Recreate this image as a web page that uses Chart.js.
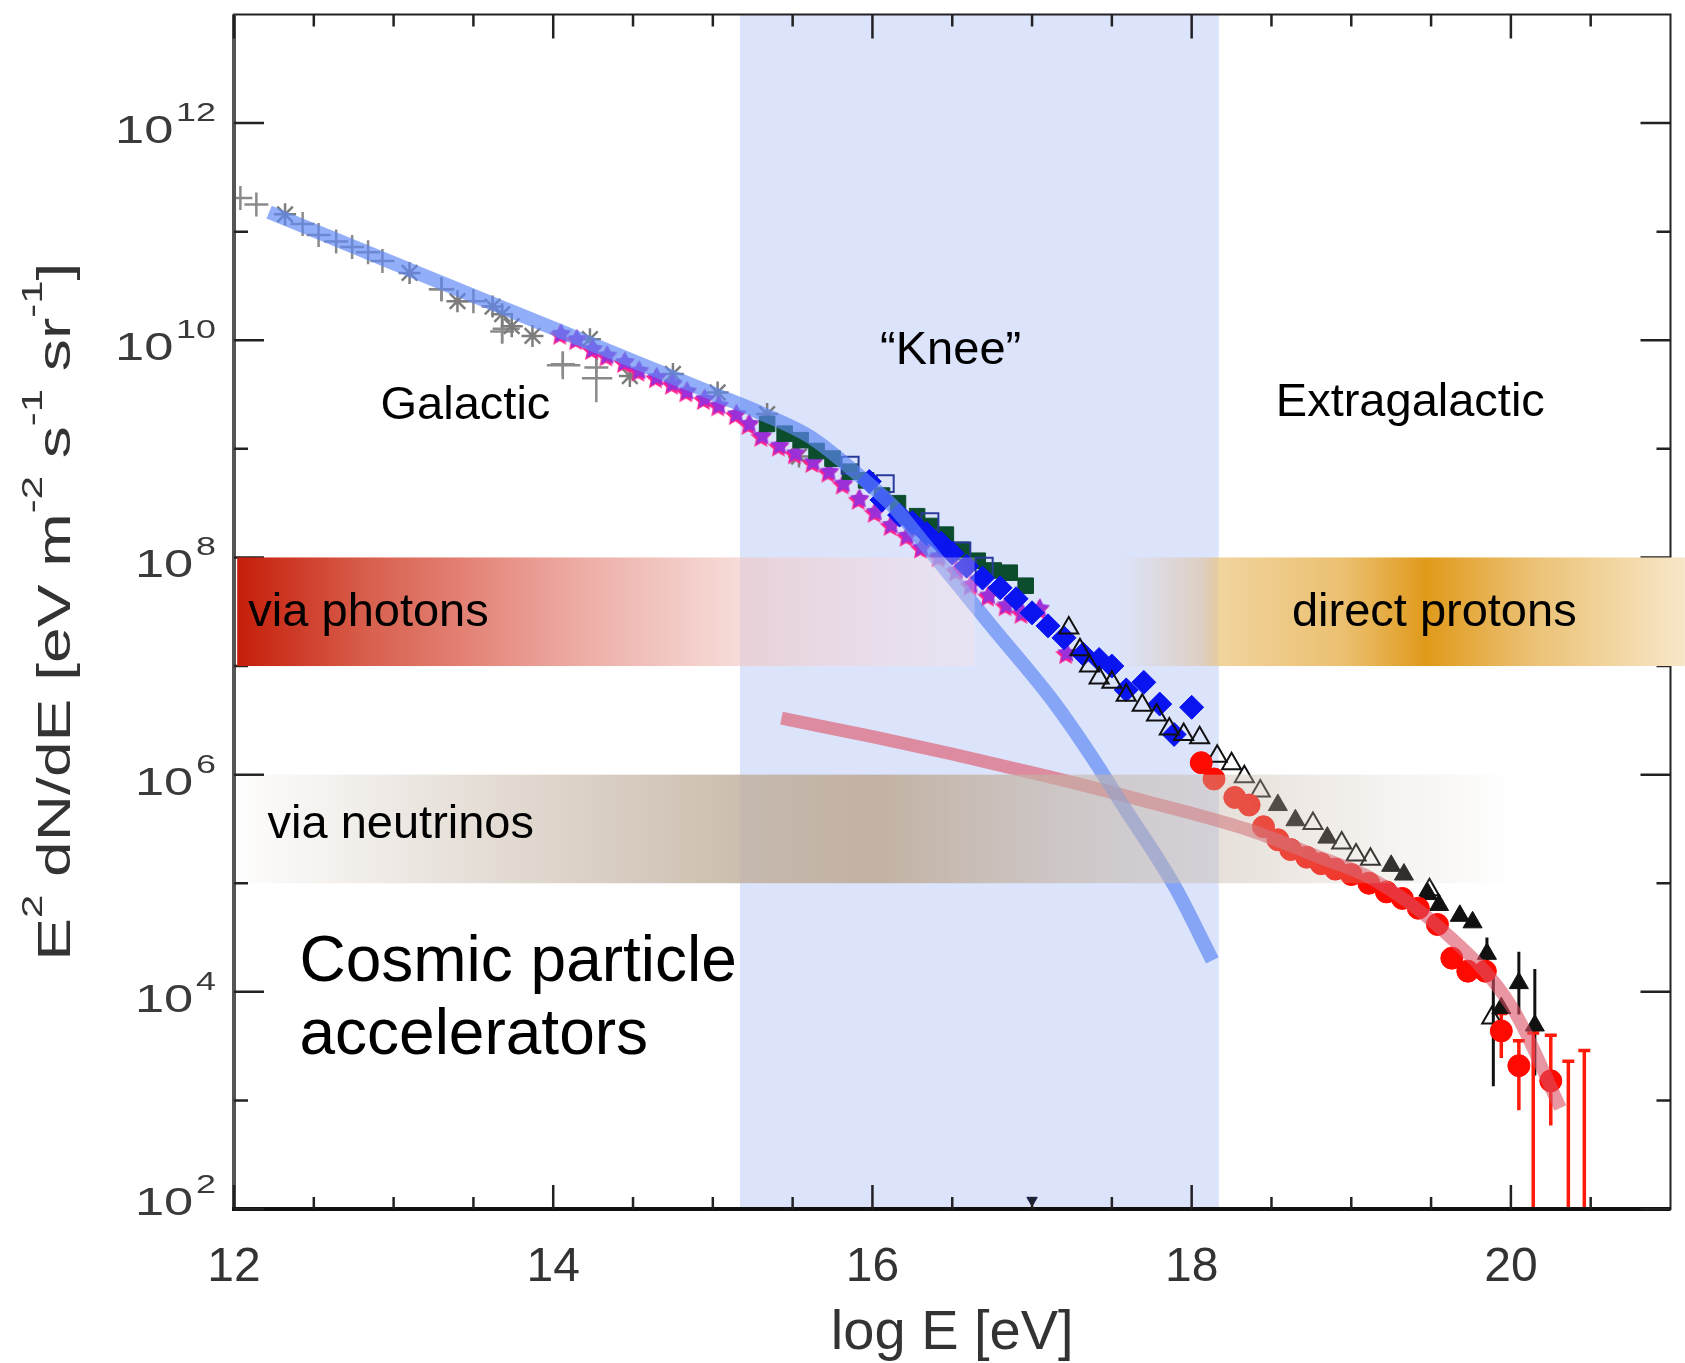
<!DOCTYPE html>
<html>
<head>
<meta charset="utf-8">
<title>Cosmic particle accelerators</title>
<script src="https://cdn.jsdelivr.net/npm/chart.js@4.4.1/dist/chart.umd.min.js"></script>
<style>
  html, body { margin: 0; padding: 0; background: #fff; }
  #wrap { width: 1685px; height: 1363px; }
</style>
</head>
<body>
<div id="wrap"><canvas id="spectrum" width="1685" height="1363"></canvas></div>
<script>
// all energies are log10(E/eV), all fluxes are log10(E^2 dN/dE)

// grey crosses (direct measurements, low energy)
const greyCrossE = [12.04, 12.14, 12.43, 12.53, 12.64, 12.74, 12.84, 12.93, 13.30, 13.50, 13.68, 14.06, 14.27];
const greyCrossF = [11.31, 11.25, 11.07, 10.97, 10.91, 10.86, 10.81, 10.73, 10.47, 10.36, 10.08, 9.78, 9.75];
// grey asterisks
const greyStarE = [12.32, 13.10, 13.40, 13.62, 13.68, 13.74, 13.87, 14.23, 14.48, 14.75, 15.03, 15.34, 15.54];
const greyStarF = [11.16, 10.62, 10.36, 10.31, 10.24, 10.13, 10.04, 10.01, 9.67, 9.69, 9.52, 9.32, 8.93];
// magenta stars
const magStarE = [14.05, 14.15, 14.25, 14.34, 14.45, 14.54, 14.65, 14.75, 14.84, 14.95, 15.04, 15.15, 15.23, 15.31, 15.42,
                  15.52, 15.63, 15.73, 15.82, 15.92, 16.02, 16.12, 16.22, 16.31, 16.42, 16.53, 16.62, 16.73, 16.84, 16.94, 17.05, 17.22];
const magStarF = [10.06, 10.01, 9.92, 9.86, 9.80, 9.72, 9.66, 9.60, 9.53, 9.46, 9.40, 9.32, 9.23, 9.12, 9.03,
                  8.96, 8.88, 8.79, 8.68, 8.54, 8.42, 8.30, 8.20, 8.09, 8.01, 7.88, 7.75, 7.65, 7.56, 7.49, 7.53, 7.12];
// dark green squares
const greenSqE = [15.34, 15.45, 15.55, 15.65, 15.75, 15.86, 15.96, 16.06, 16.16, 16.28, 16.36, 16.46, 16.56, 16.66, 16.76, 16.86, 16.96];
const greenSqF = [9.23, 9.14, 9.08, 8.98, 8.91, 8.79, 8.71, 8.57, 8.50, 8.38, 8.29, 8.21, 8.07, 7.97, 7.88, 7.86, 7.74];
// open squares
const openSqE = [15.86, 16.08, 16.36, 16.56, 16.70];
const openSqF = [8.85, 8.68, 8.33, 8.06, 7.92];
// blue diamonds
const blueDiaE = [15.98, 16.06, 16.17, 16.25, 16.34, 16.43, 16.50, 16.59, 16.69, 16.80, 16.90, 17.00, 17.10, 17.20, 17.32,
                  17.42, 17.50, 17.59, 17.70, 17.80, 17.89, 18.00];
const blueDiaF = [8.70, 8.53, 8.39, 8.32, 8.22, 8.13, 8.04, 7.92, 7.81, 7.72, 7.62, 7.49, 7.37, 7.26, 7.11,
                  7.06, 7.00, 6.78, 6.85, 6.65, 6.37, 6.62];
// open triangles
const openTriE = [17.23, 17.30, 17.36, 17.42, 17.50, 17.59, 17.69, 17.78, 17.86, 17.95, 18.05, 18.16, 18.25, 18.33, 18.43,
                  18.76, 18.94, 19.03, 19.12, 19.49, 19.88];
const openTriF = [7.35, 7.15, 7.00, 6.89, 6.85, 6.73, 6.64, 6.55, 6.42, 6.37, 6.34, 6.17, 6.10, 5.98, 5.85,
                  5.55, 5.37, 5.26, 5.22, 4.94, 3.76];
// filled triangles
const blackTriE = [18.54, 18.65, 18.85, 19.25, 19.33, 19.48, 19.55, 19.68, 19.76, 19.85, 19.94, 20.05, 20.15];
const blackTriF = [5.72, 5.58, 5.42, 5.16, 5.08, 4.90, 4.80, 4.70, 4.64, 4.35, 3.85, 4.08, 3.69];
// red circles
const redCircE = [18.06, 18.14, 18.27, 18.36, 18.45, 18.54, 18.62, 18.72, 18.81, 18.90, 19.00, 19.11, 19.22, 19.32, 19.42,
                  19.54, 19.63, 19.73, 19.84, 19.94, 20.05, 20.25];
const redCircF = [6.11, 5.96, 5.79, 5.72, 5.52, 5.40, 5.31, 5.24, 5.18, 5.13, 5.08, 5.00, 4.92, 4.86, 4.77,
                  4.62, 4.31, 4.19, 4.19, 3.64, 3.32, 3.18];

// error bars: energy, upper and lower flux
const greyErrE = [13.30, 13.68, 14.06, 14.27];
const greyErrHi = [10.58, 10.24, 9.90, 9.87];
const greyErrLo = [10.36, 9.97, 9.64, 9.43];
const greyErrELo = [13.22, 13.62, 13.96, 14.18];
const greyErrEHi = [13.38, 13.79, 14.17, 14.37];
const blackErrE = [19.85, 19.89, 20.05, 20.15];
const blackErrHi = [4.50, 4.18, 4.37, 4.21];
const blackErrLo = [4.28, 3.13, 3.79, 3.23];
const redErrE = [19.94, 20.05, 20.14, 20.25, 20.36, 20.46];
const redErrHi = [3.80, 3.55, 3.62, 3.60, 3.36, 3.46];
const redErrLo = [3.39, 2.91, 2.00, 2.77, 2.00, 2.00];

// model curves
const galacticE = [12.22, 13.00, 14.00, 15.00, 15.30, 15.61, 15.92, 16.13, 16.34, 16.54, 16.75, 17.13, 17.39, 17.55, 17.89, 18.13];
const galacticF = [11.18, 10.71, 10.11, 9.51, 9.33, 9.11, 8.75, 8.47, 8.10, 7.74, 7.36, 6.68, 6.13, 5.76, 4.98, 4.29];
const extraE = [15.43, 16.00, 16.50, 17.11, 17.70, 18.36, 18.80, 19.12, 19.57, 20.01, 20.31];
const extraF = [6.52, 6.35, 6.19, 5.98, 5.76, 5.49, 5.24, 5.05, 4.57, 3.85, 2.93];

// second knee marker on the energy axis
const secondKneeE = [17.0];
const secondKneeF = [2.08];

// shaded regions: energy range and flux decades
const kneeRange = [15.17, 18.17];
const photonRange = [12.02, 16.64];
const protonRange = [17.53, 21.09];
const neutrinoRange = [12.02, 20.02];
const upperDecades = [7, 8];
const lowerDecades = [5, 6];

// axis ticks
const xMajor = [12, 14, 16, 18, 20];
const xMinor = [12.5, 13, 13.5, 14.5, 15, 15.5, 16.5, 17, 17.5, 18.5, 19, 19.5, 20.5];
const yMajor = [2, 4, 6, 8, 10, 12];
const yMinor = [3, 5, 7, 9, 11];

const pts = (es, fs) => es.map((e, i) => ({ x: e, y: Math.pow(10, fs[i]) }));
const sans = px => px + 'px "Liberation Sans", Arial, sans-serif';

function makeStar(size) {
  const c = document.createElement('canvas');
  c.width = c.height = size;
  const g = c.getContext('2d');
  const star = (cx, cy, R, r) => {
    g.beginPath();
    for (let i = 0; i < 10; i++) {
      const a = -Math.PI / 2 + i * Math.PI / 5;
      const rr = i % 2 ? r : R;
      g.lineTo(cx + rr * Math.cos(a), cy + rr * Math.sin(a));
    }
    g.closePath();
  };
  star(size / 2 - 1.5, size / 2 + 2, size / 2 - 2, size / 5);
  g.fillStyle = '#ff1f8e';
  g.fill();
  star(size / 2, size / 2, size / 2 - 2.5, size / 5);
  g.fillStyle = '#9b2fd8';
  g.fill();
  return c;
}
const starImg = makeStar(26);

function drawErrors(ctx, chart, es, his, los, color, width, cap) {
  const sx = chart.scales.x, sy = chart.scales.y;
  ctx.strokeStyle = color;
  ctx.lineWidth = width;
  es.forEach((e, i) => {
    const x = sx.getPixelForValue(e);
    const y0 = sy.getPixelForValue(Math.pow(10, his[i]));
    const y1 = sy.getPixelForValue(Math.pow(10, los[i]));
    ctx.beginPath();
    ctx.moveTo(x, y0);
    ctx.lineTo(x, y1);
    if (cap) {
      ctx.moveTo(x - cap, y0);
      ctx.lineTo(x + cap, y0);
    }
    ctx.stroke();
  });
}

function drawBand(ctx, chart, range, decades, stops) {
  const sx = chart.scales.x, sy = chart.scales.y;
  const x0 = sx.getPixelForValue(range[0]), x1 = sx.getPixelForValue(range[1]);
  const yTop = sy.getPixelForValue(Math.pow(10, decades[1]));
  const yBot = sy.getPixelForValue(Math.pow(10, decades[0]));
  const g = ctx.createLinearGradient(x0, 0, x1, 0);
  stops.forEach(s => g.addColorStop(s[0], s[1]));
  ctx.fillStyle = g;
  ctx.fillRect(x0, yTop, x1 - x0, yBot - yTop);
}

// knee shading and error bars sit behind the markers
const backdrop = {
  id: 'backdrop',
  beforeDatasetsDraw(chart) {
    const { ctx, chartArea: a, scales: { x: sx, y: sy } } = chart;
    ctx.save();
    const k0 = sx.getPixelForValue(kneeRange[0]), k1 = sx.getPixelForValue(kneeRange[1]);
    ctx.fillStyle = '#dce4fc';
    ctx.fillRect(k0, a.top, k1 - k0, a.bottom - a.top);

    ctx.beginPath();
    ctx.rect(a.left, a.top, a.right - a.left, a.bottom - a.top);
    ctx.clip();
    drawErrors(ctx, chart, greyErrE, greyErrHi, greyErrLo, '#8a8a8a', 2.5, 0);
    // horizontal arms of the grey crosses
    ctx.beginPath();
    greyErrE.forEach((e, i) => {
      const y = sy.getPixelForValue(Math.pow(10, (greyErrHi[i] + greyErrLo[i]) / 2));
      ctx.moveTo(sx.getPixelForValue(greyErrELo[i]), y);
      ctx.lineTo(sx.getPixelForValue(greyErrEHi[i]), y);
    });
    ctx.stroke();
    drawErrors(ctx, chart, blackErrE, blackErrHi, blackErrLo, '#111', 3, 0);
    drawErrors(ctx, chart, redErrE, redErrHi, redErrLo, '#ff1a0a', 3.5, 6);
    ctx.restore();
  }
};

// frame, source bands and all the lettering on top
const overlay = {
  id: 'overlay',
  afterDatasetsDraw(chart) {
    const { ctx, chartArea: a, scales: { x: sx, y: sy } } = chart;
    ctx.save();

    // frame
    ctx.strokeStyle = '#222';
    ctx.lineWidth = 2;
    ctx.strokeRect(a.left, a.top, a.right - a.left, a.bottom - a.top);
    ctx.lineWidth = 4;
    ctx.strokeStyle = '#555';
    ctx.beginPath();
    ctx.moveTo(a.left, a.top); ctx.lineTo(a.left, a.bottom);
    ctx.stroke();
    ctx.strokeStyle = '#111';
    ctx.beginPath();
    ctx.moveTo(a.left - 2, a.bottom); ctx.lineTo(a.right, a.bottom);
    ctx.stroke();

    // inward ticks on all four sides
    ctx.strokeStyle = '#222';
    ctx.lineWidth = 2.5;
    ctx.beginPath();
    const xt = (v, len) => {
      const x = sx.getPixelForValue(v);
      ctx.moveTo(x, a.bottom); ctx.lineTo(x, a.bottom - len);
      ctx.moveTo(x, a.top); ctx.lineTo(x, a.top + len);
    };
    const yt = (p, len) => {
      const y = sy.getPixelForValue(Math.pow(10, p));
      ctx.moveTo(a.left, y); ctx.lineTo(a.left + len, y);
      ctx.moveTo(a.right, y); ctx.lineTo(a.right - len, y);
    };
    xMajor.forEach(v => xt(v, 24));
    xMinor.forEach(v => xt(v, 12));
    yMajor.forEach(p => yt(p, 30));
    yMinor.forEach(p => yt(p, 14));
    ctx.stroke();

    // photon band
    drawBand(ctx, chart, photonRange, upperDecades, [
      [0, 'rgba(198,30,10,1)'],
      [0.18, 'rgba(216,96,78,1)'],
      [0.37, 'rgba(232,146,136,1)'],
      [0.56, 'rgba(235,170,162,0.72)'],
      [0.68, 'rgba(240,195,190,0.6)'],
      [1, 'rgba(255,225,225,0.3)']
    ]);
    // proton band
    drawBand(ctx, chart, protonRange, upperDecades, [
      [0, 'rgba(225,175,110,0)'],
      [0.15, 'rgba(225,175,110,0.4)'],
      [0.18, 'rgba(236,195,120,0.72)'],
      [0.40, 'rgba(235,192,112,1)'],
      [0.545, 'rgba(224,154,26,1)'],
      [0.725, 'rgba(235,192,114,1)'],
      [0.89, 'rgba(242,216,166,1)'],
      [1, 'rgba(247,230,200,1)']
    ]);
    // neutrino band
    drawBand(ctx, chart, neutrinoRange, lowerDecades, [
      [0, 'rgba(192,174,156,0.02)'],
      [0.21, 'rgba(192,174,156,0.45)'],
      [0.39, 'rgba(192,174,156,0.8)'],
      [0.5, 'rgba(192,174,156,0.93)'],
      [0.65, 'rgba(196,180,164,0.6)'],
      [0.79, 'rgba(200,185,170,0.4)'],
      [0.94, 'rgba(205,190,176,0.12)'],
      [1, 'rgba(205,190,176,0)']
    ]);
    ctx.restore();
  },
  afterDraw(chart) {
    const { ctx, chartArea: a, scales: { x: sx, y: sy } } = chart;
    const X = v => sx.getPixelForValue(v);
    const Y = p => sy.getPixelForValue(Math.pow(10, p));
    ctx.save();

    // energy tick labels
    ctx.fillStyle = '#333';
    ctx.font = sans(48);
    ctx.textAlign = 'center';
    ctx.textBaseline = 'middle';
    xMajor.forEach(v => ctx.fillText(String(v), X(v), a.bottom + 59));

    // flux tick labels 10^n, drawn a little wide like the original axis font
    ctx.fillStyle = '#3a3a3a';
    ctx.textBaseline = 'alphabetic';
    ctx.textAlign = 'right';
    yMajor.forEach(p => {
      const y = Y(p) + (p === 2 ? -14 : 0);
      ctx.save();
      ctx.translate(a.left - 18, y);
      ctx.scale(1.38, 1);
      ctx.font = sans(26);
      const ew = ctx.measureText(String(p)).width;
      ctx.fillText(String(p), 0, -2);
      ctx.font = sans(38);
      ctx.fillText('10', -ew - 2, 20);
      ctx.restore();
    });

    // axis titles
    ctx.fillStyle = '#333';
    ctx.font = sans(56);
    ctx.textAlign = 'center';
    ctx.fillText('log E [eV]', (a.left + a.right) / 2, a.bottom + 140);

    const parts = [['E', 0], ['2', 1], [' dN/dE [eV m', 0], ['-2', 1], [' s', 0], ['-1', 1], [' sr', 0], ['-1', 1], [']', 0]];
    let total = 0;
    parts.forEach(p => { ctx.font = sans(p[1] ? 30 : 46); total += ctx.measureText(p[0]).width; });
    ctx.save();
    ctx.translate(70, (a.top + a.bottom) / 2);
    ctx.rotate(-Math.PI / 2);
    ctx.scale(698 / total, 1);
    ctx.textAlign = 'left';
    let cx = -total / 2;
    parts.forEach(p => {
      ctx.font = sans(p[1] ? 30 : 46);
      ctx.fillText(p[0], cx, p[1] ? -28 : 0);
      cx += ctx.measureText(p[0]).width;
    });
    ctx.restore();

    // region names
    ctx.fillStyle = '#000';
    ctx.textBaseline = 'middle';
    ctx.font = sans(47);
    ctx.textAlign = 'center';
    ctx.fillText('Galactic', X(13.45), Y(9.39));
    ctx.fillText('\u201cKnee\u201d', X(16.49), Y(9.90));
    ctx.fillText('Extragalactic', X(19.37), Y(9.42));
    ctx.fillText('direct protons', X(19.52), Y(7.49));
    ctx.textAlign = 'left';
    ctx.fillText('via photons', X(12.09), Y(7.49));
    ctx.fillText('via neutrinos', X(12.21), Y(5.54));
    ctx.font = sans(64);
    ctx.fillText('Cosmic particle', X(12.41), Y(4.26));
    ctx.fillText('accelerators', X(12.41), Y(3.59));
    ctx.restore();
  }
};

const ctx = document.getElementById('spectrum').getContext('2d');
const spectrumChart = new Chart(ctx, {
  type: 'scatter',
  data: {
    datasets: [
      {
        label: 'galactic model',
        data: pts(galacticE, galacticF),
        showLine: true,
        borderColor: 'rgba(95,135,245,0.68)',
        borderWidth: 14,
        borderCapStyle: 'butt',
        cubicInterpolationMode: 'monotone',
        pointRadius: 0,
        order: 1
      },
      {
        label: 'extragalactic model',
        data: pts(extraE, extraF),
        showLine: true,
        borderColor: 'rgba(220,80,100,0.6)',
        borderWidth: 13,
        borderCapStyle: 'butt',
        cubicInterpolationMode: 'monotone',
        pointRadius: 0,
        order: 1
      },
      {
        label: 'red circles',
        data: pts(redCircE, redCircF),
        pointStyle: 'circle',
        pointRadius: 11,
        backgroundColor: '#ff0a00',
        borderColor: '#ff0a00',
        order: 3
      },
      {
        label: 'filled triangles',
        data: pts(blackTriE, blackTriF),
        pointStyle: 'triangle',
        pointRadius: 11,
        backgroundColor: '#111',
        borderColor: '#111',
        order: 4
      },
      {
        label: 'open triangles',
        data: pts(openTriE, openTriF),
        pointStyle: 'triangle',
        pointRadius: 11,
        backgroundColor: 'rgba(0,0,0,0)',
        borderColor: '#111',
        borderWidth: 2,
        order: 5
      },
      {
        label: 'blue diamonds',
        data: pts(blueDiaE, blueDiaF),
        pointStyle: 'rectRot',
        pointRadius: 12,
        backgroundColor: '#0a14f0',
        borderColor: '#0a14f0',
        order: 6
      },
      {
        label: 'open squares',
        data: pts(openSqE, openSqF),
        pointStyle: 'rect',
        pointRadius: 12,
        backgroundColor: 'rgba(0,0,0,0)',
        borderColor: '#2a3a9a',
        borderWidth: 2,
        order: 7
      },
      {
        label: 'green squares',
        data: pts(greenSqE, greenSqF),
        pointStyle: 'rect',
        pointRadius: 11,
        backgroundColor: '#0b4d2c',
        borderColor: '#0b4d2c',
        order: 8
      },
      {
        label: 'magenta stars',
        data: pts(magStarE, magStarF),
        pointStyle: starImg,
        order: 9
      },
      {
        label: 'grey asterisks',
        data: pts(greyStarE, greyStarF),
        pointStyle: 'star',
        pointRadius: 11,
        borderColor: '#7d7d7d',
        borderWidth: 2.5,
        order: 10
      },
      {
        label: 'grey crosses',
        data: pts(greyCrossE, greyCrossF),
        pointStyle: 'cross',
        pointRadius: 12,
        borderColor: '#8a8a8a',
        borderWidth: 2.5,
        order: 10
      },
      {
        label: 'second knee',
        data: pts(secondKneeE, secondKneeF),
        pointStyle: 'triangle',
        rotation: 180,
        pointRadius: 6,
        backgroundColor: '#1a2040',
        borderColor: '#1a2040',
        order: 2
      }
    ]
  },
  options: {
    responsive: false,
    animation: false,
    events: [],
    layout: { padding: { left: 234, right: 14, top: 11, bottom: 154 } },
    plugins: { legend: { display: false }, tooltip: { enabled: false } },
    scales: {
      x: { type: 'linear', min: 12, max: 21, display: false },
      y: { type: 'logarithmic', min: 1e2, max: 1e13, display: false }
    }
  },
  plugins: [backdrop, overlay]
});
</script>
</body>
</html>
